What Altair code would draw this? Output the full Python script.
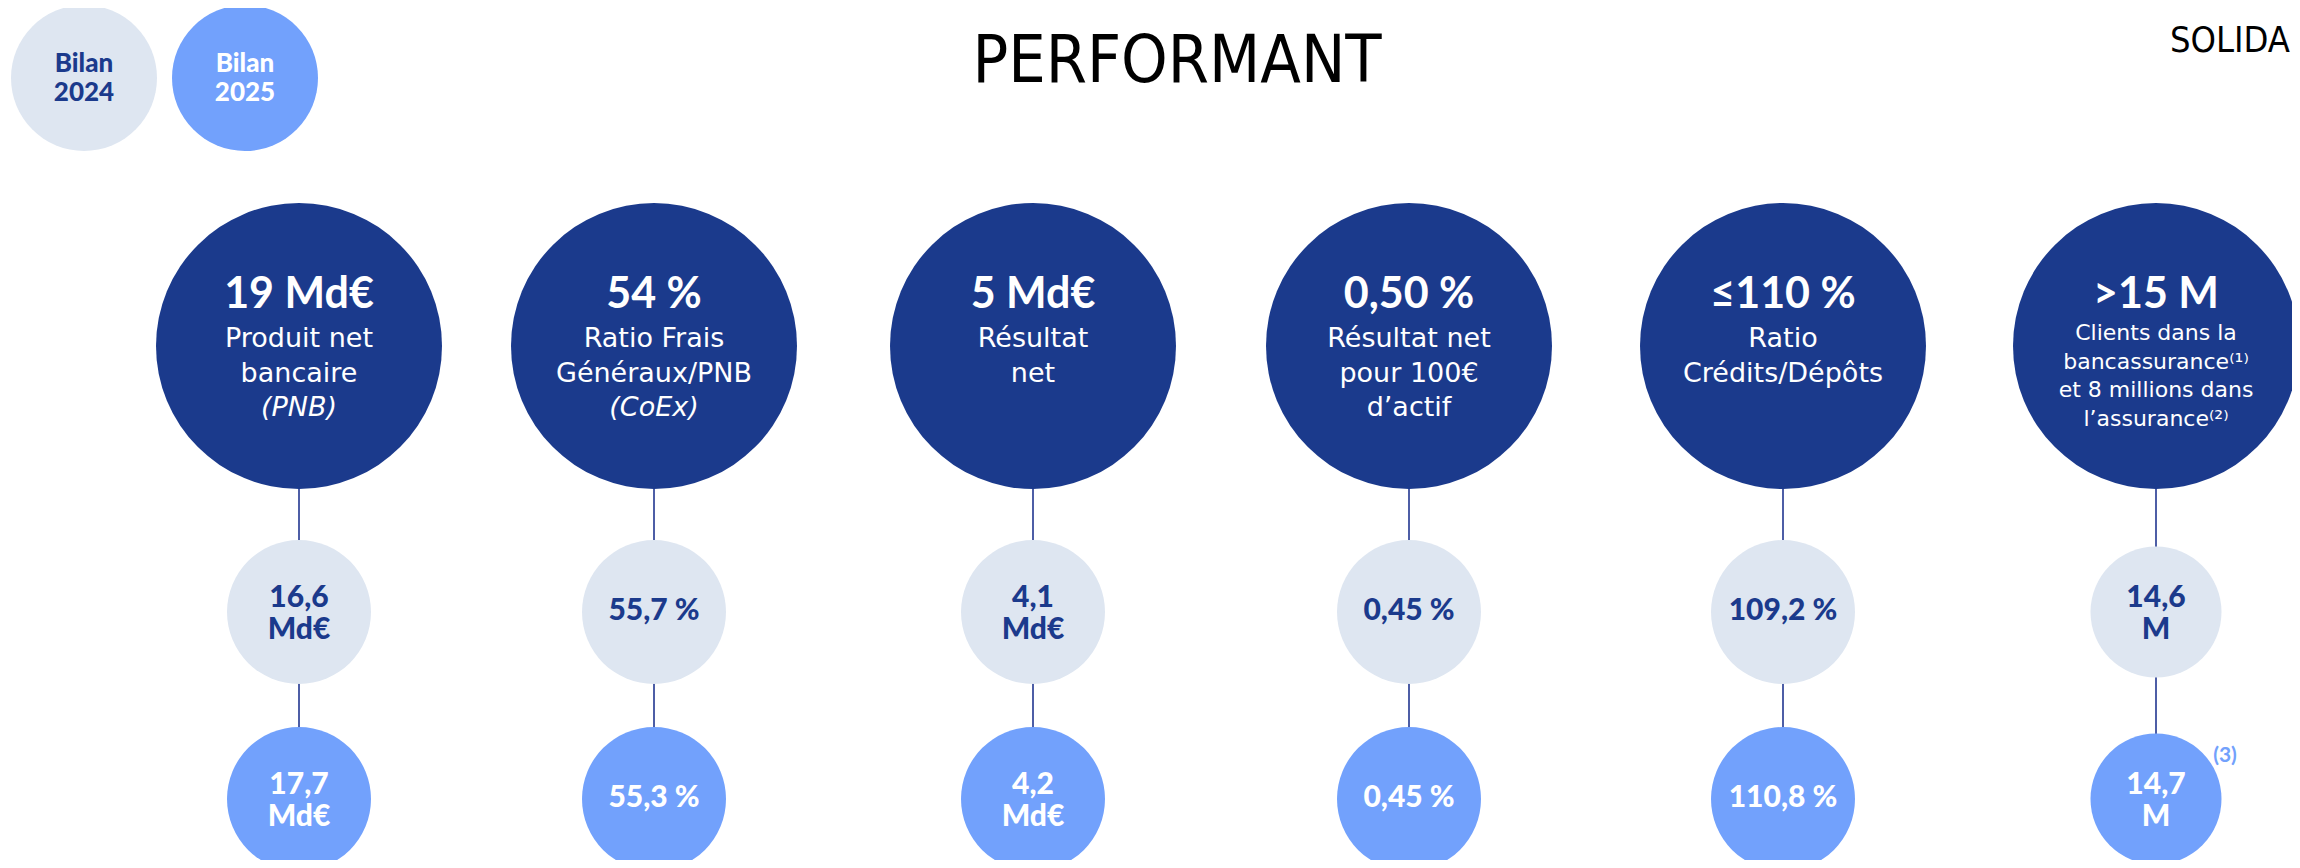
import altair as alt
import pandas as pd

# ---------------- data ----------------
kpi_headline = ["19 Md€", "54 %", "5 Md€", "0,50 %", "≤110 %", ">15 M"]
kpi_labels = [
    ["Produit net", "bancaire", "(PNB)"],
    ["Ratio Frais", "Généraux/PNB", "(CoEx)"],
    ["Résultat", "net"],
    ["Résultat net", "pour 100€", "d’actif"],
    ["Ratio", "Crédits/Dépôts"],
    ["Clients dans la", "bancassurance⁽¹⁾", "et 8 millions dans", "l’assurance⁽²⁾"],
]
italic_labels = ["(PNB)", "(CoEx)"]
bilan_2024 = ["16,6\nMd€", "55,7 %", "4,1\nMd€", "0,45 %", "109,2 %", "14,6\nM"]
bilan_2025 = ["17,7\nMd€", "55,3 %", "4,2\nMd€", "0,45 %", "110,8 %", "14,7\nM"]
legend_labels = ["Bilan\n2024", "Bilan\n2025"]
footnote_2025 = "(3)"
title_main = "PERFORMANT"
title_right = "SOLIDA"

# ---------------- layout & style ----------------
W, H = 2284, 852
COL_X = [299, 654, 1033, 1409, 1783, 2156]
BIG_Y, ROW1_Y, ROW2_Y = 346, 612, 799
BIG_D = 286
SMALL_D = [144, 144, 144, 144, 144, 131]
LEG_X, LEG_Y, LEG_D = [84, 245], 78, 146
HEAD_BASE = 308
SUB_BASE, SUB_STEP = 347, 34.5
SUB_BASE_C, SUB_STEP_C = 340, 28.7
VAL_BASE_2LINE, VAL_BASE_1LINE = -5, 8   # baseline offset from circle centre

NAVY = "#1b3a8c"
LIGHT = "#dee6f1"
MID = "#72a1fc"
LINE = "#4d5ea6"
COND = ("'Liberation Sans Narrow', 'Arial Narrow', 'DejaVu Sans Condensed', "
        "'Roboto Condensed', 'Open Sans Condensed', 'Noto Sans', sans-serif")

xs = alt.Scale(domain=[8, 8 + W], nice=False, zero=False)
ys = alt.Scale(domain=[8, 8 + H], nice=False, zero=False, reverse=True)


def enc(chart, **kw):
    return chart.encode(
        x=alt.X("x:Q", scale=xs, axis=None),
        y=alt.Y("y:Q", scale=ys, axis=None),
        **kw,
    )


# circles
circ_rows = []
for i, cx in enumerate(COL_X):
    circ_rows.append(dict(x=cx, y=BIG_Y, size=BIG_D ** 2, fill=NAVY))
    circ_rows.append(dict(x=cx, y=ROW1_Y, size=SMALL_D[i] ** 2, fill=LIGHT))
    circ_rows.append(dict(x=cx, y=ROW2_Y, size=SMALL_D[i] ** 2, fill=MID))
for j, lx in enumerate(LEG_X):
    circ_rows.append(dict(x=lx, y=LEG_Y, size=LEG_D ** 2, fill=[LIGHT, MID][j]))
circ_df = pd.DataFrame(circ_rows)

rule_df = pd.DataFrame([dict(x=cx, y=BIG_Y, y2=ROW2_Y) for cx in COL_X])

# headline texts
head_df = pd.DataFrame(
    [dict(x=COL_X[i], y=HEAD_BASE, text=t) for i, t in enumerate(kpi_headline)]
)

sub_rows, sub_c_rows, ital_rows = [], [], []
for i, lines in enumerate(kpi_labels):
    compact = len(lines) > 3
    for k, ln in enumerate(lines):
        if compact:
            sub_c_rows.append(dict(x=COL_X[i], y=SUB_BASE_C + SUB_STEP_C * k, text=ln))
        elif ln in italic_labels:
            ital_rows.append(dict(x=COL_X[i], y=SUB_BASE + SUB_STEP * k, text=ln))
        else:
            sub_rows.append(dict(x=COL_X[i], y=SUB_BASE + SUB_STEP * k, text=ln))
sub_df = pd.DataFrame(sub_rows)
sub_c_df = pd.DataFrame(sub_c_rows)
ital_df = pd.DataFrame(ital_rows)


def val_rows(values, cy):
    rows = []
    for i, t in enumerate(values):
        off = VAL_BASE_2LINE if "\n" in t else VAL_BASE_1LINE
        rows.append(dict(x=COL_X[i], y=cy + off, text=t))
    return pd.DataFrame(rows)


r1_df = val_rows(bilan_2024, ROW1_Y)
r2_df = val_rows(bilan_2025, ROW2_Y)
leg_df = pd.DataFrame(
    [dict(x=LEG_X[j], y=LEG_Y - 6, text=t, c=[NAVY, "white"][j]) for j, t in enumerate(legend_labels)]
)
fn_df = pd.DataFrame([dict(x=2225, y=762, text=footnote_2025)])
t1_df = pd.DataFrame([dict(x=1177, y=82, text=title_main)])
t2_df = pd.DataFrame([dict(x=2290, y=52, text=title_right)])

layers = [
    enc(alt.Chart(rule_df).mark_rule(color=LINE, strokeWidth=2), y2="y2:Q"),
    enc(
        alt.Chart(circ_df).mark_circle(opacity=1),
        size=alt.Size("size:Q", scale=None),
        color=alt.Color("fill:N", scale=None),
    ),
    enc(
        alt.Chart(head_df).mark_text(font="Lato", fontWeight="bold", fontSize=43,
                                     color="white", baseline="alphabetic"),
        text="text:N",
    ),
    enc(
        alt.Chart(sub_df).mark_text(font="DejaVu Sans", fontSize=27,
                                    color="white", baseline="alphabetic"),
        text="text:N",
    ),
    enc(
        alt.Chart(ital_df).mark_text(font="DejaVu Sans", fontSize=27, fontStyle="italic",
                                     color="white", baseline="alphabetic"),
        text="text:N",
    ),
    enc(
        alt.Chart(sub_c_df).mark_text(font="DejaVu Sans", fontSize=22,
                                      color="white", baseline="alphabetic"),
        text="text:N",
    ),
    enc(
        alt.Chart(r1_df).mark_text(font="Lato", fontWeight=900, fontSize=30, color=NAVY,
                                   baseline="alphabetic", lineBreak="\n", lineHeight=32),
        text="text:N",
    ),
    enc(
        alt.Chart(r2_df).mark_text(font="Lato", fontWeight=900, fontSize=30, color="white",
                                   baseline="alphabetic", lineBreak="\n", lineHeight=32),
        text="text:N",
    ),
    enc(
        alt.Chart(leg_df).mark_text(font="Lato", fontWeight=900, fontSize=26,
                                    baseline="alphabetic", lineBreak="\n", lineHeight=29),
        text="text:N",
        color=alt.Color("c:N", scale=None),
    ),
    enc(
        alt.Chart(fn_df).mark_text(font="Lato", fontWeight="bold", fontSize=21, color=MID,
                                   baseline="alphabetic"),
        text="text:N",
    ),
    enc(
        alt.Chart(t1_df).mark_text(font=COND, fontSize=66, color="black",
                                   baseline="alphabetic"),
        text="text:N",
    ),
    enc(
        alt.Chart(t2_df).mark_text(font=COND, fontSize=36, color="black",
                                   baseline="alphabetic", align="right"),
        text="text:N",
    ),
]

chart = (
    alt.layer(*layers)
    .properties(width=W, height=H, padding=0, autosize=alt.AutoSizeParams(type="none"),
                background="white")
    .configure_view(stroke=None)
)

chart.save("out.html", embed_options={"renderer": "svg", "actions": False})
